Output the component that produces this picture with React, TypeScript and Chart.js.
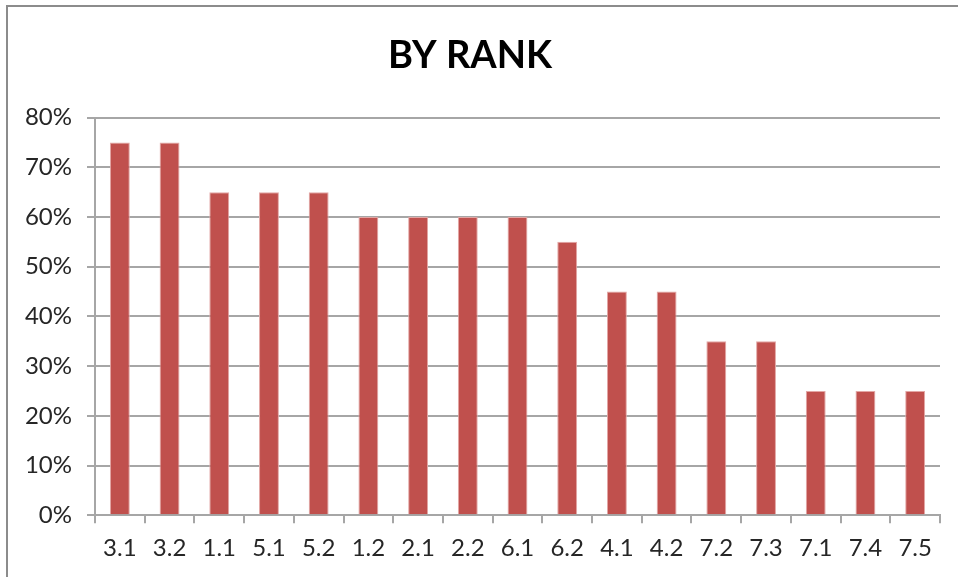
import React, { useEffect, useRef } from "react";
import { Chart, registerables } from "chart.js";

Chart.register(...registerables);

const categories = ["3.1", "3.2", "1.1", "5.1", "5.2", "1.2", "2.1", "2.2", "6.1", "6.2", "4.1", "4.2", "7.2", "7.3", "7.1", "7.4", "7.5"];
const values = [75, 75, 65, 65, 65, 60, 60, 60, 60, 55, 45, 45, 35, 35, 25, 25, 25];
const titleText = "BY RANK";
const yMin = 0;
const yMax = 80;
const yStep = 10;

const FONT = "Lato, 'Open Sans', sans-serif";

export default function App() {
  const ref = useRef<HTMLCanvasElement | null>(null);

  useEffect(() => {
    document.body.style.margin = "0";
    const canvas = ref.current;
    if (!canvas) return;
    const chart = new Chart(canvas, {
      type: "bar",
      data: {
        labels: categories,
        datasets: [
          {
            data: values,
            backgroundColor: "#C0504D",
            borderColor: "#E3A7A5",
            borderWidth: 1,
            barPercentage: 0.8,
            categoryPercentage: 0.5,
          },
        ],
      },
      options: {
        animation: false,
        responsive: false,
        maintainAspectRatio: false,
        layout: { padding: { left: 0, right: 18, top: 0, bottom: 3 } },
        plugins: {
          legend: { display: false },
          tooltip: { enabled: false },
          title: {
            display: true,
            text: titleText,
            color: "#000000",
            font: { family: FONT, size: 38, weight: "bold" },
            padding: { top: 33, bottom: 39 },
          },
        },
        scales: {
          x: {
            grid: {
              display: true,
              drawOnChartArea: false,
              drawTicks: true,
              tickLength: 8,
              color: "#A6A6A6",
              lineWidth: 2,
              offset: true,
            },
            border: { color: "#A6A6A6", width: 2 },
            ticks: {
              color: "#262626",
              font: { family: FONT, size: 24 },
              padding: 11,
              maxRotation: 0,
              autoSkip: false,
            },
          },
          y: {
            min: yMin,
            max: yMax,
            afterFit: (scale: any) => {
              scale.width = 95;
            },
            grid: {
              color: "#A6A6A6",
              lineWidth: 2,
              tickLength: 8,
            },
            border: { color: "#A6A6A6", width: 2 },
            ticks: {
              stepSize: yStep,
              color: "#262626",
              font: { family: FONT, size: 24 },
              padding: 15,
              callback: (v: any) => v + "%",
            },
          },
        },
      },
    });
    return () => chart.destroy();
  }, []);

  return (
    <div style={{ position: "fixed", left: 0, top: 0, width: 958, height: 577, overflow: "hidden", background: "#fff" }}>
      <canvas ref={ref} width={958} height={577} style={{ position: "absolute", left: 0, top: 0 }} />
      <div
        style={{
          position: "absolute",
          left: 6,
          top: 5,
          width: 1000,
          height: 1000,
          border: "2px solid #8C8C8C",
          boxSizing: "border-box",
          pointerEvents: "none",
        }}
      />
    </div>
  );
}
